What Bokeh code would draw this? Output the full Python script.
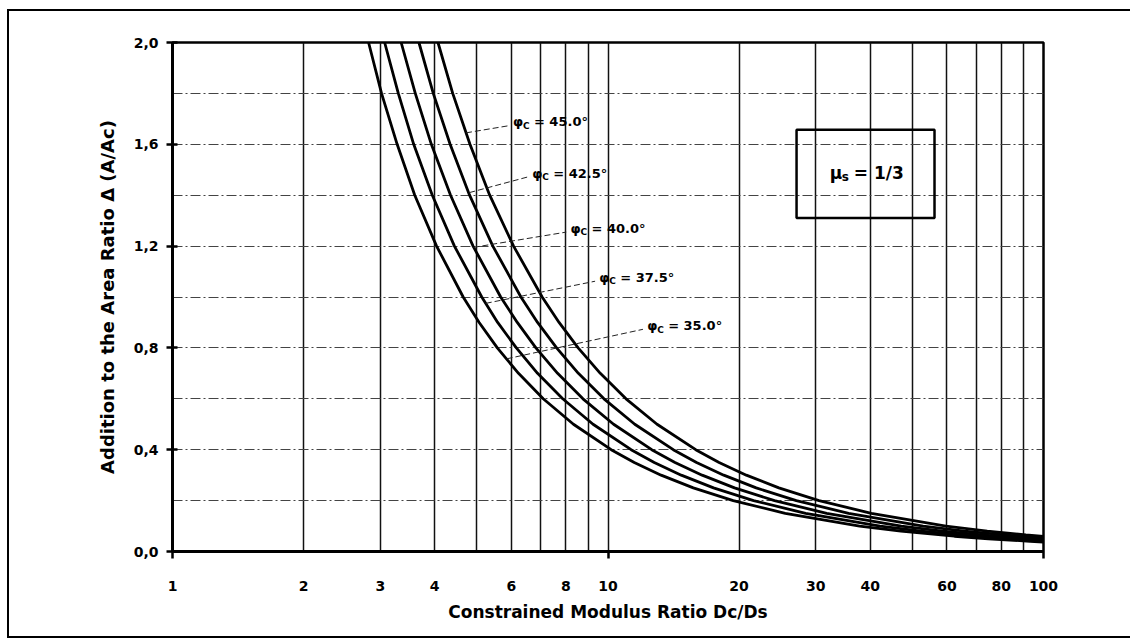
from bokeh.plotting import figure
from bokeh.models import FixedTicker, Range1d
from bokeh.core.properties import value
from bokeh.embed import file_html
from bokeh.resources import INLINE

# ---- data (Dc/Ds, addition to area ratio) ----
phi35_D = [2.82, 3.02, 3.28, 3.60, 4.04, 4.65, 5.06, 5.57, 6.23, 7.10, 8.33, 10.17, 11.49, 13.24, 15.70, 19.39, 25.53, 37.83, 47.05, 62.43, 74.73, 93.18, 100.0]
phi35_d = [2.0, 1.8, 1.6, 1.4, 1.2, 1.0, 0.9, 0.8, 0.7, 0.6, 0.5, 0.4, 0.35, 0.3, 0.25, 0.2, 0.15, 0.1, 0.08, 0.06, 0.05, 0.04, 0.037]

phi375_D = [3.07, 3.30, 3.58, 3.95, 4.44, 5.13, 5.58, 6.16, 6.89, 7.87, 9.24, 11.30, 12.77, 14.73, 17.47, 21.59, 28.44, 42.15, 52.43, 69.57, 83.28, 92.42, 100.0]
phi375_d = [2.0, 1.8, 1.6, 1.4, 1.2, 1.0, 0.9, 0.8, 0.7, 0.6, 0.5, 0.4, 0.35, 0.3, 0.25, 0.2, 0.15, 0.1, 0.08, 0.06, 0.05, 0.045, 0.0415]

phi40_D = [3.35, 3.61, 3.93, 4.35, 4.90, 5.67, 6.19, 6.83, 7.66, 8.76, 10.30, 12.60, 14.25, 16.45, 19.52, 24.12, 31.79, 47.13, 58.63, 77.79, 93.12, 100.0]
phi40_d = [2.0, 1.8, 1.6, 1.4, 1.2, 1.0, 0.9, 0.8, 0.7, 0.6, 0.5, 0.4, 0.35, 0.3, 0.25, 0.2, 0.15, 0.1, 0.08, 0.06, 0.05, 0.0465]

phi425_D = [3.68, 3.97, 4.34, 4.81, 5.44, 6.31, 6.89, 7.62, 8.55, 9.79, 11.52, 14.12, 15.97, 18.44, 21.89, 27.07, 35.69, 52.92, 65.83, 87.36, 100.0]
phi425_d = [2.0, 1.8, 1.6, 1.4, 1.2, 1.0, 0.9, 0.8, 0.7, 0.6, 0.5, 0.4, 0.35, 0.3, 0.25, 0.2, 0.15, 0.1, 0.08, 0.06, 0.052]

phi45_D = [4.07, 4.40, 4.82, 5.35, 6.07, 7.06, 7.72, 8.54, 9.60, 11.00, 12.96, 15.90, 17.99, 20.78, 24.68, 30.52, 40.25, 59.70, 74.28, 91.10, 100.0]
phi45_d = [2.0, 1.8, 1.6, 1.4, 1.2, 1.0, 0.9, 0.8, 0.7, 0.6, 0.5, 0.4, 0.35, 0.3, 0.25, 0.2, 0.15, 0.1, 0.08, 0.065, 0.059]

curve_labels = ["= 45.0°", "= 42.5°", "= 40.0°", "= 37.5°", "= 35.0°"]

x_tick_vals = [1, 2, 3, 4, 6, 8, 10, 20, 30, 40, 60, 80, 100]
x_tick_labels = ["1", "2", "3", "4", "6", "8", "10", "20", "30", "40", "60", "80", "100"]
x_grid_vals = [2, 3, 4, 5, 6, 7, 8, 9, 10, 20, 30, 40, 50, 60, 70, 80, 90]
y_tick_vals = [0.0, 0.4, 0.8, 1.2, 1.6, 2.0]
y_tick_labels = ["0,0", "0,4", "0,8", "1,2", "1,6", "2,0"]
y_grid_vals = [0.2, 0.4, 0.6, 0.8, 1.0, 1.2, 1.4, 1.6, 1.8]

FONT_NAME = "DejaVu Sans"
FONT = value(FONT_NAME)

p = figure(width=1130, height=640, x_axis_type="log",
           x_range=Range1d(1, 100), y_range=Range1d(0, 2.0),
           output_backend="svg", toolbar_location=None,
           min_border_left=172, min_border_right=87,
           min_border_top=42, min_border_bottom=89)

p.border_fill_color = None
p.background_fill_color = "white"
g = "linear-gradient(#000,#000)"
p.styles = {
    "background": (f"{g} 7px 9px / 2px 629px no-repeat, "
                   f"{g} 7px 9px / 1123px 2px no-repeat, "
                   f"{g} 7px 636px / 1123px 2px no-repeat, white"),
}
p.outline_line_color = "black"
p.outline_line_width = 2.5

# grids
p.xgrid.ticker = FixedTicker(ticks=x_grid_vals)
p.xgrid.grid_line_color = "#111111"
p.xgrid.grid_line_width = 1.5
p.ygrid.ticker = FixedTicker(ticks=y_grid_vals)
p.ygrid.grid_line_color = "#444444"
p.ygrid.grid_line_width = 1.2
p.ygrid.grid_line_dash = "10 3 2 3"

# x axis
xa = p.xaxis[0]
xa.ticker = FixedTicker(ticks=x_tick_vals, minor_ticks=[1, 10, 100])
xa.major_label_overrides = {v: t for v, t in zip(x_tick_vals, x_tick_labels)}
xa.major_tick_out = 0
xa.major_tick_in = 0
xa.minor_tick_out = 7
xa.minor_tick_in = 0
xa.minor_tick_line_width = 2.5
xa.axis_line_width = 3
xa.major_label_standoff = 22
xa.major_label_text_font = FONT_NAME
xa.major_label_text_font_style = "bold"
xa.major_label_text_font_size = "14px"
xa.major_label_text_color = "black"
xa.axis_label = "Constrained Modulus Ratio Dc/Ds"
xa.axis_label_text_font = FONT_NAME
xa.axis_label_text_font_style = "bold"
xa.axis_label_text_font_size = "17px"
xa.axis_label_text_color = "black"
xa.axis_label_standoff = 8

# y axis
ya = p.yaxis[0]
ya.ticker = FixedTicker(ticks=y_tick_vals, minor_ticks=[])
ya.major_label_overrides = {v: t for v, t in zip(y_tick_vals, y_tick_labels)}
ya.major_tick_out = 6
ya.major_tick_in = 5
ya.major_tick_line_width = 2.5
ya.axis_line_width = 3
ya.major_label_standoff = 8
ya.major_label_text_font = FONT_NAME
ya.major_label_text_font_style = "bold"
ya.major_label_text_font_size = "14px"
ya.major_label_text_color = "black"
ya.axis_label = "Addition to the Area Ratio \u0394 (A/Ac)"
ya.axis_label_text_font = FONT_NAME
ya.axis_label_text_font_style = "bold"
ya.axis_label_text_font_size = "18px"
ya.axis_label_text_color = "black"
ya.axis_label_standoff = 13

# curves
for xs, ys in [(phi35_D, phi35_d), (phi375_D, phi375_d), (phi40_D, phi40_d),
               (phi425_D, phi425_d), (phi45_D, phi45_d)]:
    p.line(xs, ys, line_color="black", line_width=2.8)

# curve labels with leader lines (45, 42.5, 40, 37.5, 35)
lab_x = [6.05, 6.70, 8.2, 9.55, 12.3]
lab_y = [1.688, 1.487, 1.270, 1.077, 0.888]
lead_x0 = [4.72, 4.80, 4.91, 5.24, 5.85]
lead_y0 = [1.645, 1.41, 1.195, 0.975, 0.757]
lead_x1 = [v * 0.978 for v in lab_x]
lead_y1 = [v - 0.015 for v in lab_y]
p.segment(lead_x0, lead_y0, lead_x1, lead_y1, line_color="#222222",
          line_width=1, line_dash="6 3")

p.text(lab_x, lab_y, text=["\u03c6"] * 5, text_font=FONT, text_font_style="bold",
       text_font_size="13px", text_baseline="middle", text_align="left")
p.text(lab_x, lab_y, text=["C"] * 5, text_font=FONT, text_font_style="bold",
       text_font_size="9px", text_baseline="middle", text_align="left",
       x_offset=10, y_offset=4)
p.text(lab_x, lab_y, text=curve_labels, text_font=FONT, text_font_style="bold",
       text_font_size="13px", text_baseline="middle", text_align="left",
       x_offset=21)

# mu_s box
p.quad(left=[27.1], right=[56.2], bottom=[1.31], top=[1.657],
       fill_color=None, line_color="black", line_width=2.5)
p.text([32.3], [1.487], text=["\u03bc"], text_font=FONT, text_font_style="bold",
       text_font_size="17px", text_baseline="middle", text_align="left")
p.text([32.3], [1.487], text=["s"], text_font=FONT, text_font_style="bold",
       text_font_size="12px", text_baseline="middle", text_align="left",
       x_offset=12, y_offset=4)
p.text([32.3], [1.487], text=["= 1/3"], text_font=FONT, text_font_style="bold",
       text_font_size="17px", text_baseline="middle", text_align="left",
       x_offset=24)

open("out.html", "w").write(file_html(p, INLINE))
